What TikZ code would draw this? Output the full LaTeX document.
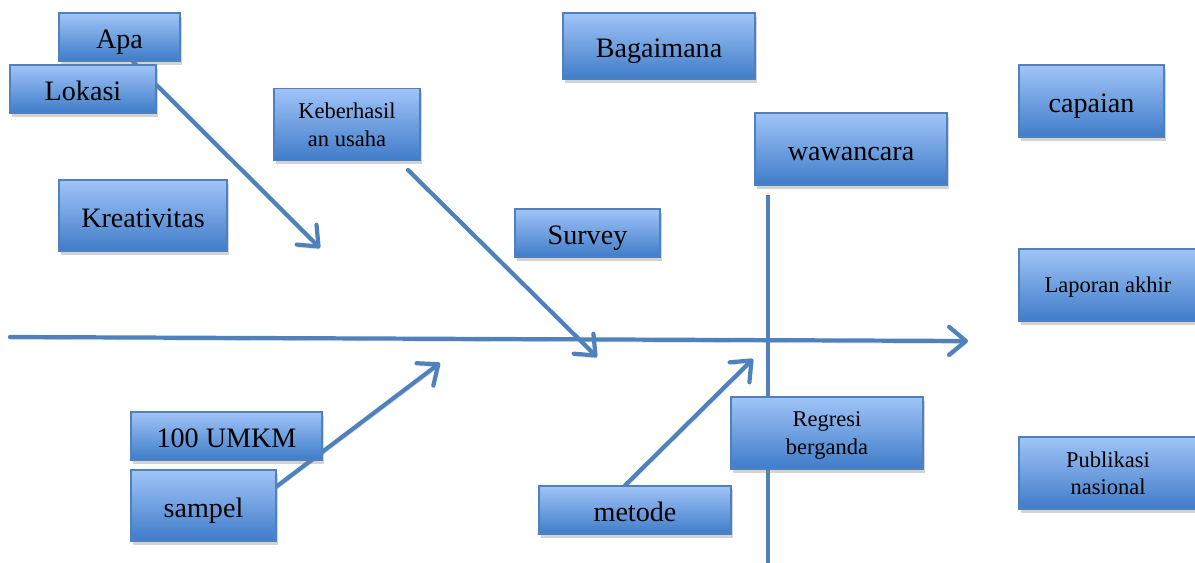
\documentclass[tikz,border=0pt]{standalone}
\usepackage{fontspec}
\setmainfont{Liberation Serif}
\usetikzlibrary{arrows.meta}
\usetikzlibrary{shadows}
\usetikzlibrary{backgrounds}

\definecolor{garis}{HTML}{4F81BD}
\definecolor{atasbox}{HTML}{A0C4F8}
\definecolor{bawahbox}{HTML}{3F7CC8}

\begin{document}
\begin{tikzpicture}[x=0.025cm, y=-0.025cm,
  kotak/.style={draw=garis, line width=0.8pt, top color=atasbox, bottom color=bawahbox,
    drop shadow={opacity=0.35, shadow xshift=0.3ex, shadow yshift=-0.6ex},
    align=center, inner sep=2pt, text height=17pt, text depth=0pt,
    font=\fontsize{20}{22}\selectfont},
  kecil/.style={text height={}, font=\fontsize{16}{19.5}\selectfont},
  bayang/.style={preaction={draw=black, draw opacity=0.15, transform canvas={shift={(0.6pt,-1.8pt)}}}},
  panah/.style={draw=garis, line width=3pt, line cap=round, bayang,
    -{Straight Barb[length=0.42cm, width=0.7cm, round]}}]
  \useasboundingbox (0,0) rectangle (1195,563);

  \node[kotak, minimum width=3.025cm, minimum height=1.2cm] (apa) at (119.5,37) {Apa};
  \node[kotak, minimum width=3.65cm, minimum height=1.2cm] (lokasi) at (83,89) {Lokasi};
  \node[kotak, minimum width=4.2cm, minimum height=1.775cm] (kreativitas) at (143,215.5) {Kreativitas};
  \node[kotak, kecil, minimum width=3.65cm, minimum height=1.8cm] (keberhasilan) at (347,124.5) {Keberhasil\\an usaha};
  \node[kotak, minimum width=4.8cm, minimum height=1.65cm] (bagaimana) at (659,46) {Bagaimana};
  \node[kotak, minimum width=3.625cm, minimum height=1.2cm] (survey) at (587.5,233) {Survey};
  \node[kotak, minimum width=4.8cm, minimum height=1.8cm] (wawancara) at (851,149) {wawancara};
  \node[kotak, minimum width=3.625cm, minimum height=1.8cm] (capaian) at (1091.5,101) {capaian};
  \node[kotak, kecil, minimum width=4.45cm, minimum height=1.8cm] (laporan) at (1108,285) {Laporan akhir};
  \node[kotak, minimum width=4.775cm, minimum height=1.2cm] (umkm) at (226.5,436) {100 UMKM};
  \node[kotak, minimum width=3.625cm, minimum height=1.775cm] (sampel) at (203.5,505.5) {sampel};
  \node[kotak, minimum width=4.8cm, minimum height=1.2cm] (metode) at (635,510) {metode};
  \node[kotak, kecil, minimum width=4.8cm, minimum height=1.8cm] (regresi) at (827,433) {Regresi\\berganda};
  \node[kotak, kecil, minimum width=4.45cm, minimum height=1.8cm] (publikasi) at (1108,473) {Publikasi\\nasional};

  \coordinate (ekor) at (10,337);
  \coordinate (kepala) at (968,341);
  \coordinate (atas) at (768,195);
  \coordinate (bawah) at (768,570);
  \coordinate (ujung1) at (320,248);
  \coordinate (pangkal2) at (408,170);
  \coordinate (ujung2) at (597,357);
  \coordinate (ujung3) at (440,363);
  \coordinate (ujung4) at (753,359);

  \begin{scope}[on background layer]
    \draw[panah] (ekor) -- (kepala);
    \draw[draw=garis, line width=3pt, bayang] (atas) -- (bawah);
    \draw[panah] ([xshift=13.5*0.025cm]apa.south) -- (ujung1);
    \draw[panah] (pangkal2) -- (ujung2);
    \draw[panah] ([yshift=-17*0.025cm]sampel.north east) -- (ujung3);
    \draw[panah] ([xshift=-10*0.025cm]metode.north) -- (ujung4);
  \end{scope}
\end{tikzpicture}
\end{document}
